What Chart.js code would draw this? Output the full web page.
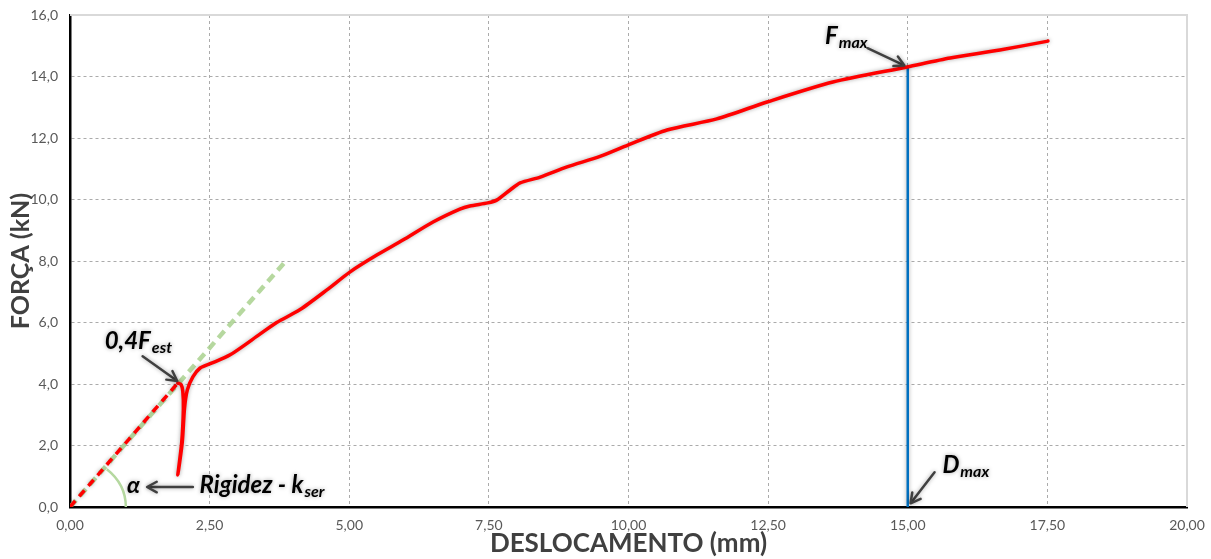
<!DOCTYPE html>
<html>
<head>
<meta charset="utf-8">
<script src="https://cdn.jsdelivr.net/npm/chart.js@4/dist/chart.umd.min.js"></script>
<style>
body{margin:0;background:#fff;}
#box{width:1211px;height:559px;}
</style>
</head>
<body>
<div id="box"><canvas id="myChart" width="1211" height="559"></canvas></div>
<script>
'use strict';
// deslocamento (mm) / forca (kN)
let dispCurve=[1.93,1.99,2.02,2.03,2.00,1.93,2.01,2.05,2.10,2.20,2.33,2.51,2.86,3.40,3.70,4.12,4.60,5.01,5.50,5.96,6.50,6.98,7.16,7.48,7.64,7.88,8.06,8.42,8.90,9.49,9.99,10.69,11.58,12.48,13.66,14.99,15.76,16.65,17.51];
let forceCurve=[4.03,3.98,3.75,3.20,2.10,1.04,2.10,3.20,3.80,4.23,4.52,4.66,4.94,5.62,6.00,6.42,7.06,7.64,8.20,8.68,9.27,9.69,9.79,9.89,9.98,10.31,10.54,10.73,11.06,11.40,11.77,12.26,12.62,13.17,13.82,14.31,14.60,14.86,15.15];
let dispElastic=[0,1.93];
let forceElastic=[0,4.03];
let dispKser=[0,3.85];
let forceKser=[0,7.97];
let dispMax=[15,15];
let forceMax=[0,14.31];
let xTicks=[0,2.5,5,7.5,10,12.5,15,17.5,20];
let yTicks=[0,2,4,6,8,10,12,14,16];

function pts(xs,ys){
  let out=[];
  for(let i=0;i<xs.length;i++){out.push({x:xs[i],y:ys[i]})}
  return out
}

function arrow(ctx,x1,y1,x2,y2){
  let a=Math.atan2(y2-y1,x2-x1);
  ctx.beginPath();
  ctx.moveTo(x1,y1);ctx.lineTo(x2-Math.cos(a)*2,y2-Math.sin(a)*2);
  ctx.stroke();
  ctx.beginPath();
  ctx.moveTo(x2-11*Math.cos(a-0.5),y2-11*Math.sin(a-0.5));
  ctx.lineTo(x2,y2);
  ctx.lineTo(x2-11*Math.cos(a+0.5),y2-11*Math.sin(a+0.5));
  ctx.stroke();
}

function label(ctx,x,y,main,sub,size){
  ctx.font='italic bold '+size+'px Lato';
  ctx.fillText(main,x,y);
  let w=ctx.measureText(main).width;
  ctx.font='italic bold '+Math.round(size*0.68)+'px Lato';
  ctx.fillText(sub,x+w+1,y+4);
}

let glow={
  id:'glow',
  beforeDatasetDraw(chart,args){
    if(args.index===3||args.index===1){
      chart.ctx.shadowColor='rgba(0,0,0,0.35)';
      chart.ctx.shadowBlur=4;
    }
  }
};

let frame={
  id:'frame',
  beforeDatasetsDraw(chart){
    let c=chart.ctx,a=chart.chartArea;
    c.save();
    c.strokeStyle='#d9d9d9';c.lineWidth=2;
    c.beginPath();
    c.moveTo(a.left,a.top);c.lineTo(a.right,a.top);c.lineTo(a.right,a.bottom);
    c.stroke();
    // alpha arc
    let sx=chart.scales.x,sy=chart.scales.y;
    let ox=sx.getPixelForValue(0),oy=sy.getPixelForValue(0);
    let r=sx.getPixelForValue(1)-ox;
    let ang=Math.atan2(sy.getPixelForValue(0)-sy.getPixelForValue(forceKser[1]),sx.getPixelForValue(dispKser[1])-ox);
    c.strokeStyle='#b5d8a0';c.lineWidth=2.5;
    c.beginPath();
    c.ellipse(ox,oy,r,r*0.9,0,-ang,0);
    c.stroke();
    c.restore();
  }
};

let notes={
  id:'notes',
  afterDraw(chart){
    let c=chart.ctx;
    let sx=chart.scales.x,sy=chart.scales.y;
    let X=v=>sx.getPixelForValue(v),Y=v=>sy.getPixelForValue(v);
    c.save();
    c.fillStyle='#000';
    c.strokeStyle='#404040';c.lineWidth=2.5;c.lineCap='round';c.lineJoin='round';
    // 0,4Fest
    label(c,X(0.62),Y(5.14),'0,4F','est',24);
    arrow(c,X(1.30),Y(4.9),X(1.92),Y(4.1));
    // alpha and k_ser
    c.font='italic bold 23px Lato';
    c.fillText('\u03b1',X(1.02),Y(0.45));
    arrow(c,X(2.20),Y(0.65),X(1.38),Y(0.65));
    label(c,X(2.32),Y(0.45),'Rigidez - k','ser',24);
    // Fmax
    label(c,X(13.52),Y(15.06),'F','max',24);
    arrow(c,X(14.28),Y(14.92),X(14.94),Y(14.36));
    // Dmax
    label(c,X(15.62),Y(1.11),'D','max',24);
    arrow(c,X(15.48),Y(1.13),X(15.05),Y(0.12));
    c.restore();
  }
};

let ctx=document.getElementById('myChart').getContext('2d');
let chart=new Chart(ctx,{
  type:'scatter',
  data:{
    datasets:[
      {label:'kser',data:pts(dispKser,forceKser),showLine:true,borderColor:'rgba(169,209,142,0.85)',borderWidth:4.5,borderDash:[9,6],pointRadius:0,order:4},
      {label:'elastic',data:pts(dispElastic,forceElastic),showLine:true,borderColor:'#ff0000',borderWidth:3.5,borderDash:[8,6],pointRadius:0,order:3},
      {label:'dmax',data:pts(dispMax,forceMax),showLine:true,borderColor:'#0070c0',borderWidth:2.5,pointRadius:0,order:2},
      {label:'curva',data:pts(dispCurve,forceCurve),showLine:true,borderColor:'#ff0000',borderWidth:3.5,tension:0.25,pointRadius:0,borderCapStyle:'round',order:1}
    ]
  },
  options:{
    responsive:false,
    animation:false,
    devicePixelRatio:1,
    layout:{padding:{top:15,right:24,left:0,bottom:0}},
    plugins:{legend:{display:false},tooltip:{enabled:false}},
    scales:{
      x:{
        type:'linear',min:0,max:20,
        afterBuildTicks(s){s.ticks=xTicks.map(v=>({value:v}))},
        afterFit(s){s.height=52;s.paddingLeft=0;s.paddingRight=0},
        grid:{color:c=>(c.tick&&(c.tick.value===0||c.tick.value===20))?'rgba(0,0,0,0)':'#ababab',lineWidth:1,drawTicks:false},
        border:{color:'#000',width:2.5,dash:[3,3]},
        ticks:{padding:10,color:'#595959',font:{family:'Lato',size:14},callback:v=>v.toFixed(2).replace('.',',')},
        title:{display:true,text:'DESLOCAMENTO (mm)',color:'#404040',font:{family:'Lato',size:26,weight:'bold'},padding:{top:0,bottom:0}}
      },
      y:{
        type:'linear',min:0,max:16,
        afterBuildTicks(s){s.ticks=yTicks.map(v=>({value:v}))},
        afterFit(s){s.width=70;s.paddingTop=0;s.paddingBottom=0},
        grid:{color:c=>(c.tick&&(c.tick.value===0||c.tick.value===16))?'rgba(0,0,0,0)':'#ababab',lineWidth:1,drawTicks:false},
        border:{color:'#000',width:2.5,dash:[3,3]},
        ticks:{padding:12,color:'#595959',font:{family:'Lato',size:14},callback:v=>v.toFixed(1).replace('.',',')},
        title:{display:true,text:'FORÇA (kN)',color:'#404040',font:{family:'Lato',size:25,weight:'bold'},padding:{top:6,bottom:0}}
      }
    }
  },
  plugins:[frame,glow,notes]
});
</script>
</body>
</html>
